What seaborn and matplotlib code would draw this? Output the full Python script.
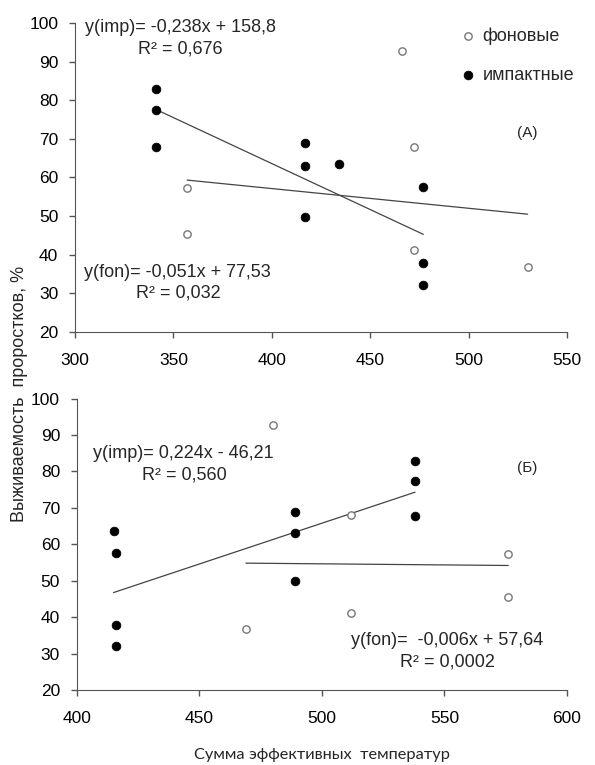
import numpy as np
import pandas as pd
import matplotlib
matplotlib.use("Agg")
import matplotlib.pyplot as plt
import seaborn as sns

# данные: одинаковые значения выживаемости, разные суммы температур
imp_y = [82.8, 77.4, 67.9, 68.8, 63.0, 63.6, 49.8, 57.5, 37.8, 32.1]
imp_x_a = [341, 341, 341, 417, 417, 434, 417, 477, 477, 477]
imp_x_b = [538, 538, 538, 489, 489, 415, 489, 416, 416, 416]

fon_y = [92.7, 68.0, 57.4, 45.4, 41.1, 36.8]
fon_x_a = [466, 472, 357, 357, 472, 530]
fon_x_b = [480, 512, 576, 576, 512, 469]

# коэффициенты линейных трендов (как на графике)
coef_a = {'imp': (-0.238, 158.8), 'fon': (-0.051, 77.53)}
coef_b = {'imp': (0.224, -46.21), 'fon': (-0.006, 57.64)}

eq_a = ["y(imp)= -0,238x + 158,8", "R² = 0,676", "y(fon)= -0,051x + 77,53", "R² = 0,032"]
eq_b = ["y(imp)= 0,224x - 46,21", "R² = 0,560", "y(fon)=  -0,006x + 57,64", "R² = 0,0002"]

sns.set_style("ticks")
plt.rcParams['font.family'] = ['Liberation Sans', 'DejaVu Sans']
plt.rcParams['axes.edgecolor'] = '#555555'
plt.rcParams['xtick.color'] = '#555555'
plt.rcParams['ytick.color'] = '#555555'
plt.rcParams['xtick.labelcolor'] = 'black'
plt.rcParams['ytick.labelcolor'] = 'black'

fig = plt.figure(figsize=(5.95, 7.65), dpi=100)
ax1 = fig.add_axes([0.126, 0.566, 0.827, 0.404])
ax2 = fig.add_axes([0.129, 0.098, 0.824, 0.381])

def trend(ax, xs, k, b):
    x = np.array([min(xs), max(xs)])
    sns.lineplot(x=x, y=k * x + b, ax=ax, color='#444444', lw=0.9)

def panel(ax, fx, fy, ix, iy, coef, xlim, step):
    trend(ax, fx, *coef['fon'])
    trend(ax, ix, *coef['imp'])
    sns.scatterplot(x=fx, y=fy, ax=ax, marker='o', s=28, facecolor='white',
                    edgecolor='#777777', linewidth=1.0, label='фоновые', zorder=3)
    sns.scatterplot(x=ix, y=iy, ax=ax, marker='o', s=40, color='black',
                    edgecolor='black', linewidth=0.5, label='импактные', zorder=3)
    ax.set_xlim(xlim)
    ax.set_ylim(20, 100)
    ax.set_xticks(np.arange(xlim[0], xlim[1] + 1, step))
    ax.set_yticks(np.arange(20, 101, 10))
    ax.tick_params(labelsize=12.5, length=4, width=1)
    ax.tick_params(axis='x', pad=11)
    ax.tick_params(axis='y', pad=8)
    sns.despine(ax=ax)

panel(ax1, fon_x_a, fon_y, imp_x_a, imp_y, coef_a, (300, 550), 50)
panel(ax2, fon_x_b, fon_y, imp_x_b, imp_y, coef_b, (400, 600), 50)

leg = ax1.legend(loc='upper left', bbox_to_anchor=(0.762, 1.01), frameon=False, fontsize=13,
                 handletextpad=0.2, labelspacing=1.25, borderaxespad=0, handlelength=1.2)
ax2.get_legend().remove()

fs = 13
ax1.text(305, 98.7, eq_a[0], fontsize=fs, va='center')
ax1.text(332, 93.3, eq_a[1], fontsize=fs, va='center')
ax1.text(304.6, 35.5, eq_a[2], fontsize=fs, va='center')
ax1.text(331, 30.1, eq_a[3], fontsize=fs, va='center')
ax1.text(524.6, 71.5, '(А)', fontsize=11, va='center')

ax2.text(406.7, 85.0, eq_b[0], fontsize=fs, va='center')
ax2.text(426.7, 79.0, eq_b[1], fontsize=fs, va='center')
ax2.text(512, 33.7, eq_b[2], fontsize=fs, va='center')
ax2.text(532, 27.7, eq_b[3], fontsize=fs, va='center')
ax2.text(579.7, 80.9, '(Б)', fontsize=11, va='center')

fig.text(20 / 595, 1 - 394 / 765, 'Выживаемость  проростков, %', rotation=90,
         ha='center', va='center', fontsize=13)
fig.text(322 / 595, 1 - 755 / 765, 'Сумма эффективных  температур',
         ha='center', va='center', fontsize=11.8, family=['Lato', 'DejaVu Sans'])

fig.savefig('out.png', dpi=100)
